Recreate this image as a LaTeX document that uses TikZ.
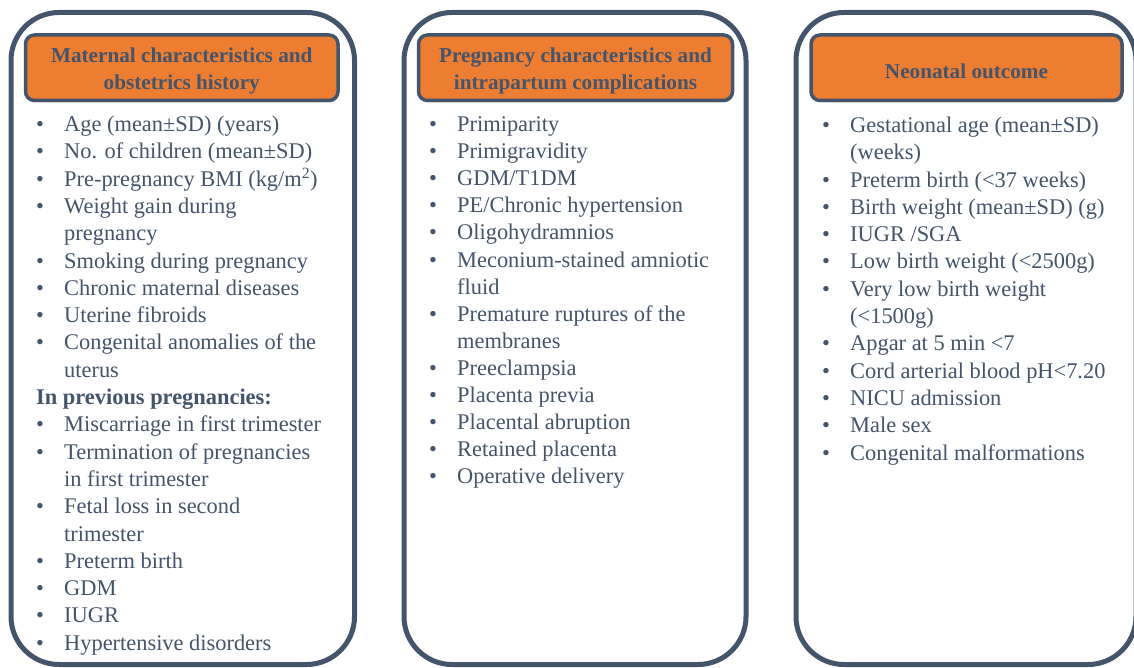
\documentclass[tikz,border=0pt]{standalone}
\usepackage{fontspec}
\setmainfont{Liberation Serif}
\usetikzlibrary{shadows}
\definecolor{slate}{HTML}{44546A}
\definecolor{orng}{HTML}{ED7D31}
\tikzset{
    panel/.style={draw=slate, line width=5pt, rounded corners=48pt, fill=white},
    header/.style={draw=slate, line width=3.5pt, rounded corners=9pt, fill=orng,
        drop shadow={opacity=0.35, shadow xshift=1pt, shadow yshift=-2pt}},
    headtxt/.style={text=slate, align=center, yshift=-3.5pt,
        font=\fontsize{21.2}{27}\selectfont\bfseries},
    itm/.style={anchor=base west, inner sep=0pt, text=slate,
        font=\fontsize{22.4}{27.3}\selectfont},
    blt/.style={itm, anchor=base}
}
\begin{document}
\begin{tikzpicture}[x=1pt, y=-1pt]
    \useasboundingbox (0, 0) rectangle (1134, 668);
    \clip (0, 0) rectangle (1134, 668);
    % three panels
    \node[panel, minimum width=343.5pt, minimum height=652pt] (matpanel) at (182.75, 338.5) {};
    \node[panel, minimum width=342pt, minimum height=652pt] (pregpanel) at (575, 338.5) {};
    \node[panel, minimum width=340pt, minimum height=652pt] (neopanel) at (966, 338.5) {};
    \node[header, minimum width=312.5pt, minimum height=65.5pt] (mathead) at (181.75, 67.75) {};
    \node[header, minimum width=314pt, minimum height=65.5pt] (preghead) at (575.5, 67.75) {};
    \node[header, minimum width=311pt, minimum height=65.5pt] (neohead) at (966.5, 67.75) {};
    \node[headtxt] (mattitle) at (mathead.center) {Maternal characteristics and\\obstetrics history};
    \node[headtxt] (pregtitle) at (preghead.center) {Pregnancy characteristics and\\intrapartum complications};
    \node[headtxt] (neotitle) at (neohead.center) {Neonatal outcome};
    % maternal characteristics
    \foreach \k/\t in {0/{Age (mean±SD) (years)}, 1/{No. of children (mean±SD)},
            2/{Pre-pregnancy BMI (kg/m\textsuperscript{2})}, 3/{Weight gain during},
            4/{pregnancy}, 5/{Smoking during pregnancy}, 6/{Chronic maternal diseases},
            7/{Uterine fibroids}, 8/{Congenital anomalies of the}, 9/{uterus},
            11/{Miscarriage in first trimester}, 12/{Termination of pregnancies},
            13/{in first trimester}, 14/{Fetal loss in second}, 15/{trimester},
            16/{Preterm birth}, 17/{GDM}, 18/{IUGR}, 19/{Hypertensive disorders}}
        \node[itm] (mat\k) at (64, {131.5+27.3*\k}) {\t};
    \foreach \k in {0,1,2,3,5,6,7,8,11,12,14,16,17,18,19}
        \node[blt] (matb\k) at (40, {131.5+27.3*\k}) {•};
    \node[itm] (mat10) at (36, {131.5+27.3*10}) {\bfseries In previous pregnancies:};
    % pregnancy characteristics
    \foreach \k/\t in {0/{Primiparity}, 1/{Primigravidity}, 2/{GDM/T1DM},
            3/{PE/Chronic hypertension}, 4/{Oligohydramnios}, 5/{Meconium-stained amniotic},
            6/{fluid}, 7/{Premature ruptures of the}, 8/{membranes}, 9/{Preeclampsia},
            10/{Placenta previa}, 11/{Placental abruption}, 12/{Retained placenta},
            13/{Operative delivery}}
        \node[itm] (preg\k) at (457, {131.5+27.1*\k}) {\t};
    \foreach \k in {0,1,2,3,4,5,7,9,10,11,12,13}
        \node[blt] (pregb\k) at (433, {131.5+27.1*\k}) {•};
    % neonatal outcome
    \foreach \k/\t in {0/{Gestational age (mean±SD)}, 1/{(weeks)},
            2/{Preterm birth (<37 weeks)}, 3/{Birth weight (mean±SD) (g)}, 4/{IUGR /SGA},
            5/{Low birth weight (<2500g)}, 6/{Very low birth weight}, 7/{(<1500g)},
            8/{Apgar at 5 min <7}, 9/{Cord arterial blood pH<7.20}, 10/{NICU admission},
            11/{Male sex}, 12/{Congenital malformations}}
        \node[itm] (neo\k) at (850, {132.5+27.3*\k}) {\t};
    \foreach \k in {0,2,3,4,5,6,8,9,10,11,12}
        \node[blt] (neob\k) at (826, {132.5+27.3*\k}) {•};
\end{tikzpicture}
\end{document}
